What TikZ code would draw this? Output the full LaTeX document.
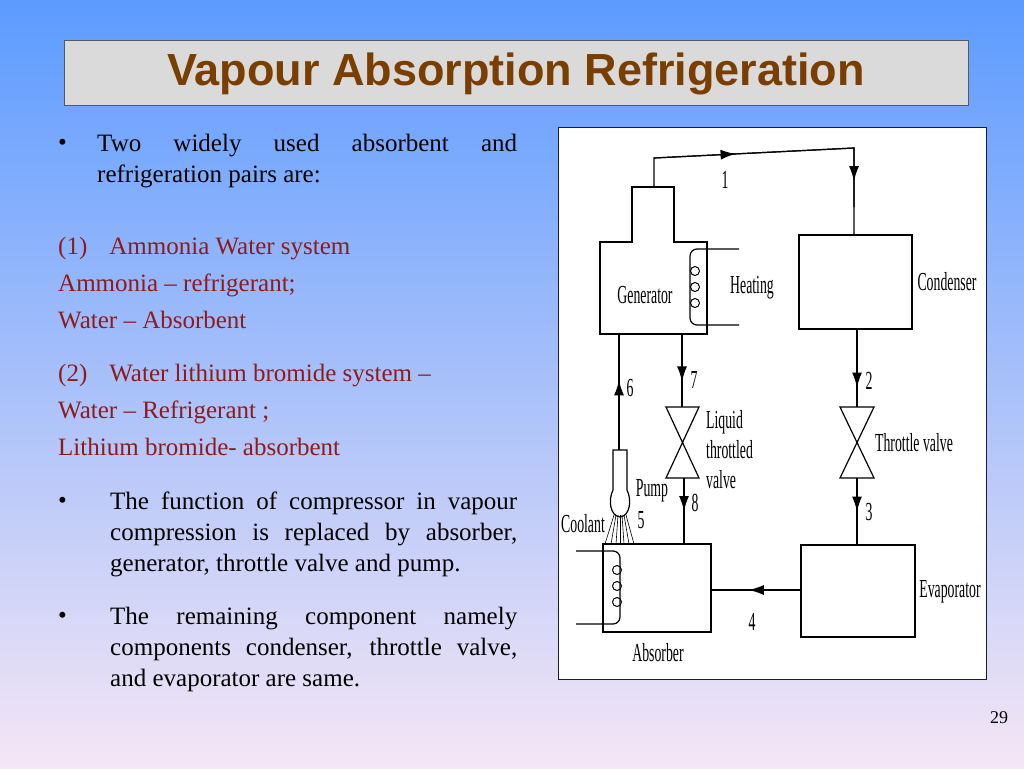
\documentclass[tikz,border=0pt]{standalone}
\usepackage{fontspec}
\setmainfont{Liberation Serif}
\newfontfamily\titlefont{Liberation Sans}
\usetikzlibrary{arrows.meta,decorations.markings}
\definecolor{titlec}{HTML}{7A3E00}
\definecolor{redt}{HTML}{8E1B1B}
\newcommand{\nar}[1]{\scalebox{0.53}[1]{#1}}
\newcommand{\nohy}{\hyphenpenalty=10000 \exhyphenpenalty=10000\relax}
\tikzset{
  pipe/.style={line width=1.2pt},
  marr/.style={postaction={decorate},decoration={markings,mark=at position #1 with {\arrow{Latex[length=15pt,width=10pt]}}}},
  lab/.style={font=\fontsize{26}{27}\selectfont,inner sep=0pt},
  txt/.style={font=\fontsize{25}{31}\selectfont\nohy,inner sep=0pt,anchor=base west},
}
\begin{document}
\begin{tikzpicture}[x=1pt,y=-1pt]
\useasboundingbox (0,0) rectangle (1024,768);
\shade[top color={rgb,255:red,92;green,155;blue,255}, middle color={rgb,255:red,170;green,205;blue,250}, bottom color={rgb,255:red,245;green,230;blue,245}] (0,0) rectangle (1024,768);
\node[draw=gray!70!black, fill={rgb,255:red,218;green,218;blue,218}, minimum width=904pt, minimum height=65pt, anchor=north west] (title) at (64,40) {};
\node[font=\titlefont\bfseries\fontsize{45}{48}\selectfont, text=titlec] at (516,74) {Vapour Absorption Refrigeration};
% left text
\node[txt] (b1) at (58,150) {\textbullet};
\node[txt,text width=420pt,anchor=north west,align=justify] (t1) at (97,134) {Two widely used absorbent and refrigeration pairs are:};
\node[txt,text=redt] (l1) at (58,254) {(1)\hspace{22pt}Ammonia Water system};
\node[txt,text=redt] (l2) at (58,291) {Ammonia -- refrigerant;};
\node[txt,text=redt] (l3) at (58,328) {Water -- Absorbent};
\node[txt,text=redt] (l4) at (58,381) {(2)\hspace{22pt}Water lithium bromide system --};
\node[txt,text=redt] (l5) at (58,418) {Water -- Refrigerant ;};
\node[txt,text=redt] (l6) at (58,455) {Lithium bromide- absorbent};
\node[txt] (b2) at (58,508) {\textbullet};
\node[txt,text width=407pt,anchor=north west,align=justify] (t2) at (110,492) {The function of compressor in vapour compression is replaced by absorber, generator, throttle valve and pump.};
\node[txt] (b3) at (58,623) {\textbullet};
\node[txt,text width=407pt,anchor=north west,align=justify] (t3) at (110,607) {The remaining component namely components condenser, throttle valve, and evaporator are same.};
\node[font=\fontsize{18}{18}\selectfont] (pg) at (999,718) {29};
% diagram panel
\node[draw={rgb,255:red,20;green,30;blue,60}, fill=white, line width=0.8pt, minimum width=428pt, minimum height=552pt, anchor=north west] (panel) at (558,127) {};
% generator
\draw[pipe] (600,334)--(600,242)--(632,242)--(632,187)--(674,187)--(674,242)--(707,242)--(707,334)--cycle;
\node[lab] (gen) at (645,295) {\nar{Generator}};
\draw[pipe] (739,249)--(697,249) to[out=180,in=90] (690,256) -- (690,318) to[out=-90,in=180] (697,325) -- (739,325);
\foreach \y in {271,287,303} \draw[line width=1pt] (695,\y) circle (4.5pt);
\node[lab] (heat) at (752,288) {\nar{Heating}};
% pipe 1
\draw[pipe,marr=0.35] (654,187)--(654,158)--(854,148)--(854,235);
\draw[pipe,marr=0.9] (654,158)--(854,148)--(854,207);
\node[lab] (n1) at (725,180) {\nar{1}};
% condenser
\draw[pipe] (799,235) rectangle (912,329);
\node[lab] (cond) at (947,282) {\nar{Condenser}};
% pipe 2 and valve
\draw[pipe,marr=0.75] (857,329)--(857,407);
\node[lab] (n2) at (869,381) {\nar{2}};
\draw[pipe] (840,407)--(874,407)--(840,478)--(874,478)--cycle;
\node[lab] (tv) at (914,443) {\nar{Throttle valve}};
\draw[pipe,marr=0.5] (857,478)--(857,545);
\node[lab] (n3) at (869,512) {\nar{3}};
% evaporator
\draw[pipe] (801,545) rectangle (915,637);
\node[lab] (evap) at (950,592) {\nar{Evaporator}};
\draw[pipe,marr=0.58] (801,590)--(711,590);
\node[lab] (n4) at (752,622) {\nar{4}};
% absorber
\draw[pipe] (603,544) rectangle (711,632);
\node[lab] (abs) at (658,653) {\nar{Absorber}};
\draw[pipe] (576,551)--(613,551) to[out=0,in=90] (620,558) -- (620,617) to[out=-90,in=0] (613,624) -- (576,624);
\foreach \y in {570,586,602} \draw[line width=1pt] (617,\y) circle (4.5pt);
% pipe 7, liquid valve, pipe 8
\draw[pipe,marr=0.65] (682,334)--(682,407);
\node[lab] (n7) at (694,380) {\nar{7}};
\draw[pipe] (666,407)--(699,407)--(666,478)--(699,478)--cycle;
\node[lab,align=left,anchor=west,font=\fontsize{26}{30}\selectfont] (ltv) at (706,450) {\nar{Liquid}\\\nar{throttled}\\\nar{valve}};
\draw[pipe,marr=0.5] (684,478)--(684,544);
\node[lab] (n8) at (695,503) {\nar{8}};
% pump and pipe 6
\draw[pipe,marr=0.6] (619,450)--(619,334);
\node[lab] (n6) at (630,388) {\nar{6}};
\draw[pipe] (613,450)--(627,450)--(627,490) .. controls (632,500) and (630,516) .. (620,517) .. controls (610,516) and (608,500) .. (613,490) -- cycle;
\foreach \a/\b in {614/605,616/611,618/616,620/620,622/624,624/629,626/634} \draw[line width=0.6pt] (\a,515)--(\b,544);
\node[lab] (pump) at (652,491) {\nar{Pump}};
\node[lab] (n5) at (641,520) {\nar{5}};
\node[lab] (cool) at (583,524) {\nar{Coolant}};
\end{tikzpicture}
\end{document}
